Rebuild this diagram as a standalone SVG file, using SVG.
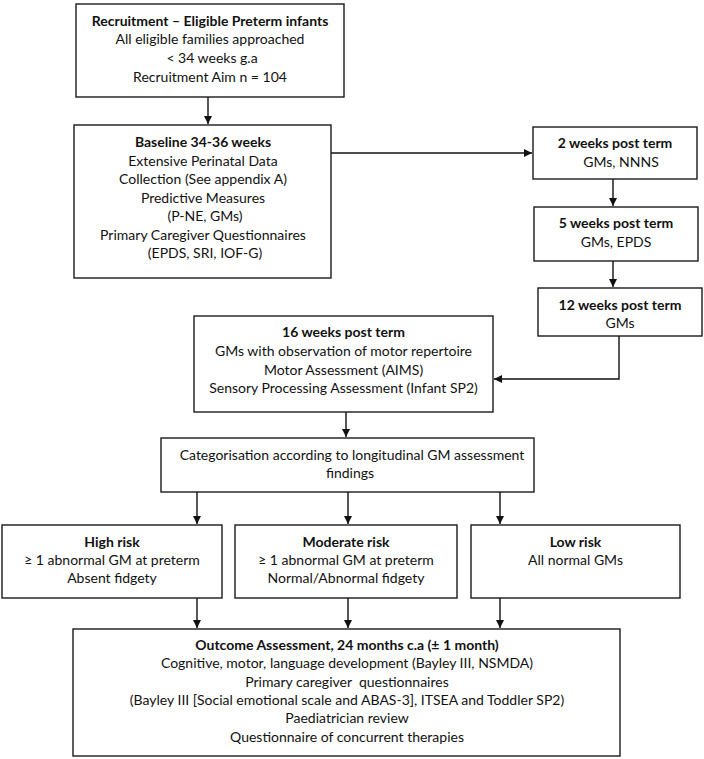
<svg xmlns="http://www.w3.org/2000/svg" width="704" height="759" viewBox="0 0 704 759">
<defs>
<style>
.box{fill:#ffffff;stroke:#1a1a1a;stroke-width:1.4}
.t{font-family:Lato,"Noto Sans","DejaVu Sans",sans-serif;font-size:14px;fill:#111;text-anchor:middle}
.b{font-weight:bold}
.c{fill:none;stroke:#111;stroke-width:1.4}
</style>
<marker id="ah" viewBox="0 0 10 10" refX="10" refY="5" markerWidth="8" markerHeight="8" markerUnits="userSpaceOnUse" orient="auto">
<path d="M0,0 L10,5 L0,10 z" fill="#111"/>
</marker>
</defs>
<rect width="704" height="759" fill="#ffffff"/>
<g id="connectors">
<path class="c" d="M208,97 V124" marker-end="url(#ah)"/>
<path class="c" d="M331,153 H532" marker-end="url(#ah)"/>
<path class="c" d="M613,179 V206" marker-end="url(#ah)"/>
<path class="c" d="M613,261 V287" marker-end="url(#ah)"/>
<path class="c" d="M619,336 V379 H494" marker-end="url(#ah)"/>
<path class="c" d="M346,412 V437" marker-end="url(#ah)"/>
<path class="c" d="M197,492 V524" marker-end="url(#ah)"/>
<path class="c" d="M348,492 V524" marker-end="url(#ah)"/>
<path class="c" d="M500,492 V524" marker-end="url(#ah)"/>
<path class="c" d="M197,598 V628" marker-end="url(#ah)"/>
<path class="c" d="M348,598 V628" marker-end="url(#ah)"/>
<path class="c" d="M500,598 V628" marker-end="url(#ah)"/>
</g>
<g id="recruitment">
<rect class="box" x="76" y="4" width="268" height="93"/>
<text class="t b" x="210" y="25.5">Recruitment – Eligible Preterm infants</text>
<text class="t" x="210" y="43.5">All eligible families approached</text>
<text class="t" x="212" y="62.5">&lt; 34 weeks g.a</text>
<text class="t" x="210" y="81.5">Recruitment Aim n = 104</text>
</g>
<g id="baseline">
<rect class="box" x="74" y="125" width="257" height="153"/>
<text class="t b" x="203" y="147">Baseline 34-36 weeks</text>
<text class="t" x="203" y="165.5">Extensive Perinatal Data</text>
<text class="t" x="203" y="184">Collection (See appendix A)</text>
<text class="t" x="203" y="202.5">Predictive Measures</text>
<text class="t" x="205" y="221">(P-NE, GMs)</text>
<text class="t" x="203" y="239.5">Primary Caregiver Questionnaires</text>
<text class="t" x="205" y="258">(EPDS, SRI, IOF-G)</text>
</g>
<g id="week2">
<rect class="box" x="533" y="127" width="164" height="52"/>
<text class="t b" x="615" y="148">2 weeks post term</text>
<text class="t" x="621" y="167">GMs, NNNS</text>
</g>
<g id="week5">
<rect class="box" x="534" y="207" width="164" height="54"/>
<text class="t b" x="616" y="228">5 weeks post term</text>
<text class="t" x="616" y="247">GMs, EPDS</text>
</g>
<g id="week12">
<rect class="box" x="538" y="288" width="164" height="48"/>
<text class="t b" x="620" y="310">12 weeks post term</text>
<text class="t" x="620" y="328">GMs</text>
</g>
<g id="week16">
<rect class="box" x="194" y="316" width="299" height="96"/>
<text class="t b" x="343.5" y="337">16 weeks post term</text>
<text class="t" x="343.5" y="355.5">GMs with observation of motor repertoire</text>
<text class="t" x="343.5" y="374.5">Motor Assessment (AIMS)</text>
<text class="t" x="343.5" y="393">Sensory Processing Assessment (Infant SP2)</text>
</g>
<g id="categorisation">
<rect class="box" x="161" y="438" width="373" height="54"/>
<text class="t" x="352" y="460">Categorisation according to longitudinal GM assessment</text>
<text class="t" x="350" y="478">findings</text>
</g>
<g id="high-risk">
<rect class="box" x="2" y="525" width="220" height="73"/>
<text class="t b" x="112" y="547">High risk</text>
<text class="t" x="112" y="565">≥ 1 abnormal GM at preterm</text>
<text class="t" x="112" y="583">Absent fidgety</text>
</g>
<g id="moderate-risk">
<rect class="box" x="235" y="525" width="222" height="73"/>
<text class="t b" x="346" y="547">Moderate risk</text>
<text class="t" x="346" y="565">≥ 1 abnormal GM at preterm</text>
<text class="t" x="346" y="583">Normal/Abnormal fidgety</text>
</g>
<g id="low-risk">
<rect class="box" x="471" y="525" width="209" height="73"/>
<text class="t b" x="575.5" y="547">Low risk</text>
<text class="t" x="575.5" y="565">All normal GMs</text>
</g>
<g id="outcome">
<rect class="box" x="73" y="629" width="547" height="127"/>
<text class="t b" x="347" y="650">Outcome Assessment, 24 months c.a (± 1 month)</text>
<text class="t" x="347" y="668">Cognitive, motor, language development (Bayley III, NSMDA)</text>
<text class="t" x="347" y="687" xml:space="preserve">Primary caregiver  questionnaires</text>
<text class="t" x="347" y="705">(Bayley III [Social emotional scale and ABAS-3], ITSEA and Toddler SP2)</text>
<text class="t" x="347" y="723">Paediatrician review</text>
<text class="t" x="347" y="742">Questionnaire of concurrent therapies</text>
</g>
</svg>
